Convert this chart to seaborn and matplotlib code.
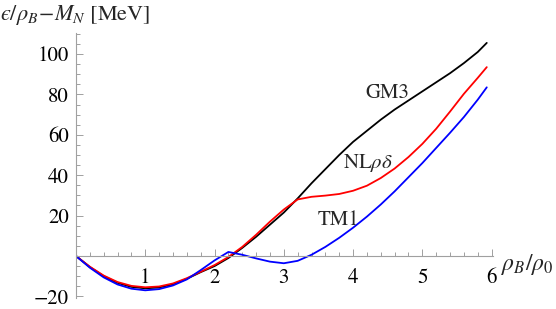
import numpy as np
import pandas as pd
import matplotlib
matplotlib.use("Agg")
import matplotlib.pyplot as plt
import seaborn as sns
from matplotlib.ticker import MultipleLocator, FixedLocator

# density rho_B / rho_0
rho = [0, 0.2, 0.4, 0.6, 0.8, 1.0, 1.2, 1.4, 1.6, 1.8, 2.0, 2.2, 2.4, 2.6, 2.8,
       3.0, 3.2, 3.4, 3.6, 3.8, 4.0, 4.2, 4.4, 4.6, 4.8, 5.0, 5.2, 5.4, 5.6, 5.8, 5.93]

# binding energy per baryon [MeV]
gm3 = [0, -5.5, -10, -13.3, -15.3, -16, -15.6, -14, -11.3, -8, -5, -1, 4, 9.5, 15.5,
       21.5, 28.5, 36, 43, 50, 56.5, 62, 67.5, 72.5, 77, 81.5, 86, 90.5, 95.5, 101, 105.5]
nlrd = [0, -5.3, -9.7, -12.9, -14.8, -15.5, -15.1, -13.6, -11, -7.8, -4.5, -0.5, 4.5, 10.5, 17,
        23, 28, 29.3, 29.9, 30.7, 32.3, 34.8, 38.6, 43.3, 49, 55.5, 63, 71.5, 80.3, 88.2, 93.5]
tm1 = [0, -5.8, -10.6, -14.1, -16.2, -17, -16.4, -14.6, -11.6, -7, -2.2, 2.0, 0.6, -1.2, -2.8,
       -3.6, -2.4, 0.6, 4.5, 9, 14, 19.5, 25.5, 32, 39, 46, 53.5, 61, 68.8, 77.4, 83.5]

models = ["GM3", "NLrd", "TM1"]
colors = {"GM3": "black", "NLrd": "red", "TM1": "blue"}

df = pd.concat([
    pd.DataFrame({"rho": rho, "E": gm3, "model": "GM3"}),
    pd.DataFrame({"rho": rho, "E": nlrd, "model": "NLrd"}),
    pd.DataFrame({"rho": rho, "E": tm1, "model": "TM1"}),
])

sns.set_style("white")
plt.rcParams["font.family"] = ["STIXGeneral", "DejaVu Serif"]
plt.rcParams["mathtext.fontset"] = "stix"

fig = plt.figure(figsize=(5.56, 3.09), dpi=100)
ax = fig.add_axes([76 / 556, 1 - 298.4 / 309, 417 / 556, 265.4 / 309])

for m in models:
    sns.lineplot(data=df[df.model == m], x="rho", y="E", color=colors[m],
                 lw=1.3, sort=False, estimator=None, ax=ax, legend=False)

ax.set_xlim(0, 6.02)
ax.set_ylim(-21, 110.4)

# Mathematica style axes through the origin
for s in ["top", "right"]:
    ax.spines[s].set_visible(False)
ax.spines["left"].set_position(("data", 0))
ax.spines["bottom"].set_position(("data", 0))
for s in ["left", "bottom"]:
    ax.spines[s].set_color("#a0a0a0")
    ax.spines[s].set_linewidth(0.8)

ax.xaxis.set_major_locator(FixedLocator([1, 2, 3, 4, 5, 6]))
ax.xaxis.set_minor_locator(MultipleLocator(0.2))
ax.yaxis.set_major_locator(FixedLocator([-20, 20, 40, 60, 80, 100]))
ax.yaxis.set_minor_locator(MultipleLocator(5))
ax.tick_params(which="both", direction="in", color="#a0a0a0", width=0.7,
               bottom=True, left=True, labelsize=15, labelcolor="black")
ax.tick_params(which="major", length=5)
ax.tick_params(which="minor", length=3)
ax.tick_params(axis="x", which="major", pad=9)
ax.tick_params(axis="y", which="major", pad=5)
ax.set_xlabel("")
ax.set_ylabel("")

ax.text(6.13, -4, r"$\rho_B/\rho_0$", fontsize=17, ha="left", va="center", clip_on=False)
fig.text(0.0, 1 - 15 / 309, "$\u03f5/\\rho_B\\!-\\!M_N$ [MeV]", fontsize=16,
         ha="left", va="center")

ax.text(4.50, 80.5, "GM3", fontsize=15, ha="center", va="center")
ax.text(4.21, 45.8, r"NL$\rho\delta$", fontsize=15, ha="center", va="center")
ax.text(3.79, 18, "TM1", fontsize=15, ha="center", va="center")

fig.savefig("out.png", dpi=100)
